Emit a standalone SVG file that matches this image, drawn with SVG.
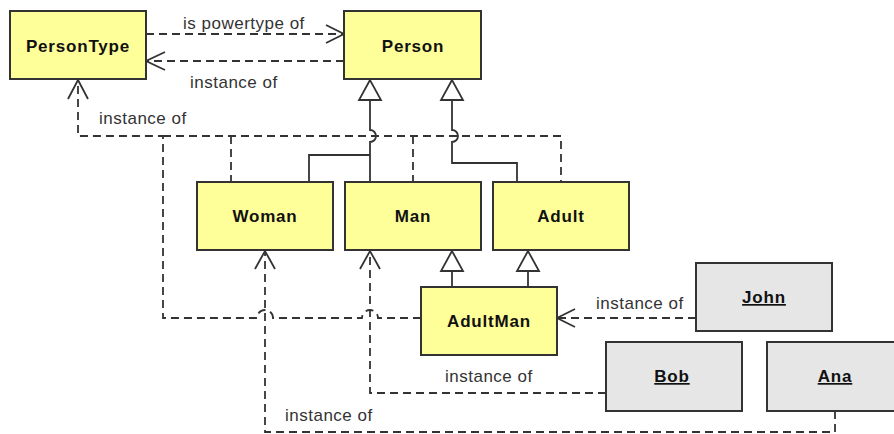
<svg xmlns="http://www.w3.org/2000/svg" width="894" height="434" viewBox="0 0 894 434">
<style>
.cls rect{fill:#ffff99;stroke:#333;stroke-width:2}
.obj rect{fill:#e6e6e6;stroke:#333;stroke-width:2}
.name{font-family:"Liberation Sans",Arial,sans-serif;font-weight:bold;font-size:17px;letter-spacing:0.8px;fill:#111;text-anchor:middle}
.lbl{font-family:"Liberation Sans",Arial,sans-serif;font-size:17px;letter-spacing:0.5px;fill:#333}
.dash{fill:none;stroke:#333;stroke-width:1.8;stroke-dasharray:8,5}
.solid{fill:none;stroke:#333;stroke-width:1.8}
.open{fill:none;stroke:#333;stroke-width:1.8}
.tri{fill:#fff;stroke:#333;stroke-width:1.8}
</style>
<rect width="894" height="434" fill="#fff"/>
<g id="connectors">
  <!-- PersonType is powertype of Person -->
  <path class="dash" d="M146,34 H343"/>
  <polyline class="open" points="326,25 344,34 326,43"/>
  <!-- Person instance of PersonType -->
  <path class="dash" d="M344,61 H147"/>
  <polyline class="open" points="165,52 146,61 165,70"/>
  <!-- Woman/Man/Adult/AdultMan instance of PersonType -->
  <path class="dash" d="M421,318 H378 A8,8 0 0 0 362,318 H273 A8,8 0 0 0 257,318 H163 V136 H78 V81"/>
  <path class="dash" d="M231,136 V182"/>
  <path class="dash" d="M413,136 V182"/>
  <path class="dash" d="M163,136 H561 V182"/>
  <polyline class="open" points="68,99 78,80 88,99"/>
  <!-- Woman, Man generalization to Person -->
  <path class="solid" d="M370,100 V130 A6,6 0 0 1 370,142 V182"/>
  <path class="solid" d="M370,155 H309 V182"/>
  <polygon class="tri" points="370,80 359,100 381,100"/>
  <!-- Adult generalization to Person -->
  <path class="solid" d="M452,100 V130 A6,6 0 0 1 452,142 V163 H517 V182"/>
  <polygon class="tri" points="452,80 441,100 463,100"/>
  <!-- AdultMan generalizations -->
  <path class="solid" d="M452,271 V287"/>
  <polygon class="tri" points="452,251 441,271 463,271"/>
  <path class="solid" d="M528,271 V287"/>
  <polygon class="tri" points="528,251 517,271 539,271"/>
  <!-- John instance of AdultMan -->
  <path class="dash" d="M696,318 H558"/>
  <polyline class="open" points="575,309 557,318 575,327"/>
  <!-- Bob instance of Man -->
  <path class="dash" d="M606,393 H370 V251"/>
  <polyline class="open" points="360,269 370,251 380,269"/>
  <!-- Ana instance of Woman -->
  <path class="dash" d="M835,411 V432 H265 V251"/>
  <polyline class="open" points="255,269 265,251 275,269"/>
  <!-- labels -->
  <text class="lbl" x="183" y="29">is powertype of</text>
  <text class="lbl" x="190" y="88">instance of</text>
  <text class="lbl" x="99" y="124">instance of</text>
  <text class="lbl" x="596" y="309">instance of</text>
  <text class="lbl" x="445" y="382">instance of</text>
  <text class="lbl" x="285" y="421">instance of</text>
</g>
<g id="PersonType" class="cls"><rect x="10" y="11" width="136" height="68"/><text class="name" x="78" y="52">PersonType</text></g>
<g id="Person" class="cls"><rect x="344" y="11" width="137" height="68"/><text class="name" x="413" y="52">Person</text></g>
<g id="Woman" class="cls"><rect x="197" y="182" width="136" height="68"/><text class="name" x="265" y="222">Woman</text></g>
<g id="Man" class="cls"><rect x="345" y="182" width="136" height="68"/><text class="name" x="413" y="222">Man</text></g>
<g id="Adult" class="cls"><rect x="493" y="182" width="136" height="68"/><text class="name" x="561" y="222">Adult</text></g>
<g id="AdultMan" class="cls"><rect x="421" y="287" width="136" height="68"/><text class="name" x="489" y="327">AdultMan</text></g>
<g id="John" class="obj"><rect x="696" y="263" width="136" height="68"/><text class="name" x="764" y="303" text-decoration="underline">John</text></g>
<g id="Bob" class="obj"><rect x="606" y="342" width="136" height="69"/><text class="name" x="672" y="382" text-decoration="underline">Bob</text></g>
<g id="Ana" class="obj"><rect x="767" y="342" width="136" height="69"/><text class="name" x="835" y="382" text-decoration="underline">Ana</text></g>
</svg>
